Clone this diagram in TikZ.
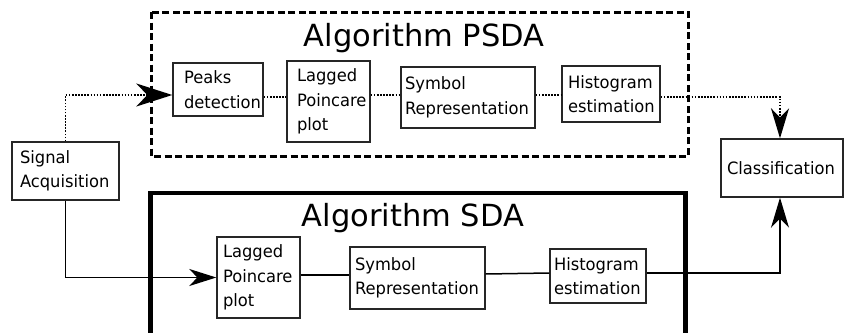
\documentclass[tikz,border=0pt]{standalone}
\usepackage{fontspec}
\setmainfont{DejaVu Sans}
\newfontfamily\boxfont[FakeStretch=0.96]{DejaVu Sans}
\usetikzlibrary{arrows.meta}
\hfuzz=50pt
\begin{document}
\begin{tikzpicture}[x=1pt,y=-1pt,
  box/.style={draw=black!85, line width=1.4pt, align=left, fill=white,
    font=\boxfont\fontsize{17}{24.5}\selectfont, inner ysep=0pt},
  title/.style={font=\fontsize{30.5}{36}\selectfont, anchor=base, inner sep=0pt},
  dotline/.style={line width=1.8pt, dash pattern=on 1.6pt off 1.5pt},
  solidline/.style={line width=1.5pt},
  bigtip/.style={-{Stealth[length=36pt,width=23pt,inset=11pt]}},
  tip/.style={-{Stealth[length=30pt,width=18pt,inset=9pt]}},
  smalltip/.style={-{Stealth[length=27pt,width=17pt,inset=8pt]}}]
\clip (0,0) rectangle (846,332);
\fill[white] (0,0) rectangle (846,332);
% frames
\draw[line width=3pt, dash pattern=on 7pt off 3.5pt] (151,12) rectangle (688,156);
\draw[line width=4.5pt] (150.5,345) |- (685.5,193) -- (685.5,345);
\node[title] (tpsda) at (424,46.5) {Algorithm PSDA};
\node[title] (tsda) at (413,226) {Algorithm SDA};
% boxes
\node[box, minimum width=107pt, minimum height=58pt, inner xsep=8pt, text width=91pt] (sig) at (65.5,171) {Signal\\Acquisition};
\node[box, minimum width=90pt, minimum height=53pt, inner xsep=11pt, text width=68pt] (peaks) at (218,89.5) {Peaks\\detection};
\node[box, minimum width=83pt, minimum height=81pt, inner xsep=10pt, text width=63pt] (lag1) at (328.5,101.5) {Lagged\\Poincare\\plot};
\node[box, minimum width=134pt, minimum height=61pt, inner xsep=4pt, text width=126pt] (sym1) at (468,97.5) {Symbol\\Representation};
\node[box, minimum width=98pt, minimum height=56pt, inner xsep=6pt, text width=86pt] (hist1) at (611,94) {Histogram\\estimation};
\node[box, minimum width=122pt, minimum height=58pt, inner xsep=6pt, text width=110pt] (cls) at (782,168) {Classification};
\node[box, minimum width=83pt, minimum height=81pt, inner xsep=6pt, text width=71pt] (lag2) at (258.5,277.5) {Lagged\\Poincare\\plot};
\node[box, minimum width=135pt, minimum height=62pt, inner xsep=5pt, text width=125pt] (sym2) at (417.5,278) {Symbol\\Representation};
\node[box, minimum width=96pt, minimum height=54pt, inner xsep=4pt, text width=88pt] (hist2) at (598,276) {Histogram\\estimation};
% PSDA connectors
\draw[dotline, bigtip] (sig.north) |- ([yshift=-5.5pt]peaks.west);
\draw[dotline] ([yshift=-7.5pt]peaks.east) -- ([yshift=-7.5pt]peaks.east -| lag1.west);
\draw[dotline] ([yshift=6.5pt]lag1.east) -- ([yshift=6.5pt]lag1.east -| sym1.west);
\draw[dotline] ([yshift=2.5pt]sym1.east) -- ([yshift=2.5pt]sym1.east -| hist1.west);
\draw[dotline, tip] ([yshift=-3pt]hist1.east) -| ([xshift=-2pt]cls.north);
% SDA connectors
\draw[solidline, smalltip] (sig.south) |- (lag2.west);
\draw[solidline] ([yshift=2.5pt]lag2.east) -- ([yshift=3pt]sym2.west);
\draw[solidline] ([yshift=4pt]sym2.east) -- ([yshift=3pt]hist2.west);
\draw[solidline, tip] ([yshift=3pt]hist2.east) -| ([xshift=-2pt]cls.south);
\end{tikzpicture}
\end{document}
